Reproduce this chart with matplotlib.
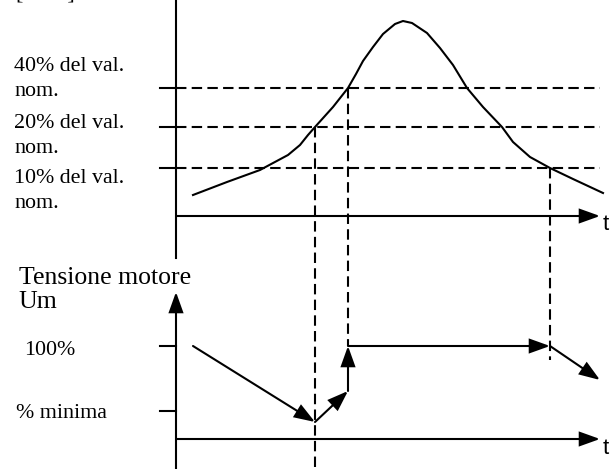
import matplotlib
matplotlib.use("Agg")
import matplotlib.pyplot as plt

# ---- data (diagram units: x = time position, y = screen height, 0 at top) ----
# upper panel: motor current curve
curve_t = [193, 227, 260, 288, 300, 308, 315, 333, 348, 356, 363, 373, 383, 395, 403,
           412, 427, 440, 453, 467, 483, 502, 513, 530, 550, 573, 603]
curve_i = [195, 182, 170, 155, 145, 135, 127, 107, 88, 74, 61, 47, 34, 24, 21,
           23, 33, 48, 65, 88, 107, 127, 142, 157, 168, 179, 193]
level_labels = ["40% del val.\nnom.", "20% del val.\nnom.", "10% del val.\nnom."]
level_y = [88, 127, 168]
level_label_y = [71, 128, 183]
# crossing times (dashed verticals)
cross_t = [315, 348, 550]
cross_top = [127, 88, 168]
cross_bottom = [469, 346, 360]

# lower panel: motor voltage
volt_labels = ["100%", "% minima"]
volt_y = [346, 411]
volt_label_x = [24, 16]
volt_label_y = [355, 418]
volt_t = [193, 315, 348, 348, 550, 600]
volt_u = [346, 422, 391, 346, 346, 380]

# axes
x0 = 176
t_end = 600
upper_taxis_y = 216
lower_taxis_y = 439
upper_vaxis = (0, 258)
lower_vaxis = (469, 292)

fig = plt.figure(figsize=(6.13, 4.69), dpi=100)
ax = fig.add_axes([0, 0, 1, 1])
ax.set_xlim(0, 613)
ax.set_ylim(469, 0)
ax.axis("off")

plt.rcParams["lines.scale_dashes"] = False
LW = 1.5
dash = (0, (7.5, 3.8))
font = dict(family="Liberation Serif", fontsize=15.8, color="black")
bigfont = dict(family="Liberation Serif", fontsize=18.5, color="black")
tfont = dict(family="Liberation Sans", fontsize=16, color="black")
arrow = dict(arrowstyle="-|>,head_length=0.95,head_width=0.34", lw=LW,
             color="black", shrinkA=0, shrinkB=0, mutation_scale=13,
             joinstyle="miter")

# upper axes
ax.plot([x0, x0], upper_vaxis, color="black", lw=LW)
ax.annotate("", xy=(t_end, upper_taxis_y), xytext=(x0, upper_taxis_y), arrowprops=arrow)
ax.text(603, upper_taxis_y + 9, "t", va="center", ha="left", **tfont)
ax.text(16, -1, "[        ]", va="baseline", ha="left", **font)

# levels
for y, lab, ly in zip(level_y, level_labels, level_label_y):
    ax.plot([160, x0], [y, y], color="black", lw=LW)
    ax.plot([x0, t_end], [y, y], color="black", lw=LW, linestyle=dash)
    first, second = lab.split("\n")
    ax.text(14, ly, first, va="baseline", ha="left", **font)
    ax.text(14, ly + 25, second, va="baseline", ha="left", **font)

ax.plot(curve_t, curve_i, color="black", lw=LW, solid_joinstyle="round")

for t, yt, yb in zip(cross_t, cross_top, cross_bottom):
    ax.plot([t, t], [yt, yb], color="black", lw=LW, linestyle=dash)

# lower axes
ax.annotate("", xy=(x0, lower_vaxis[1]), xytext=(x0, lower_vaxis[0]), arrowprops=arrow)
ax.annotate("", xy=(t_end, lower_taxis_y), xytext=(x0, lower_taxis_y), arrowprops=arrow)
ax.text(603, lower_taxis_y + 10, "t", va="center", ha="left", **tfont)
ax.text(19, 284, "Tensione motore", va="baseline", ha="left", **bigfont)
ax.text(18, 308, "Um", va="baseline", ha="left", **bigfont)

for y, lab, lx, ly in zip(volt_y, volt_labels, volt_label_x, volt_label_y):
    ax.plot([160, x0], [y, y], color="black", lw=LW)
    ax.text(lx, ly, lab, va="baseline", ha="left", **font)

for i in range(len(volt_t) - 1):
    ax.annotate("", xy=(volt_t[i + 1], volt_u[i + 1]), xytext=(volt_t[i], volt_u[i]),
                arrowprops=arrow)

fig.savefig("out.png", dpi=100)
